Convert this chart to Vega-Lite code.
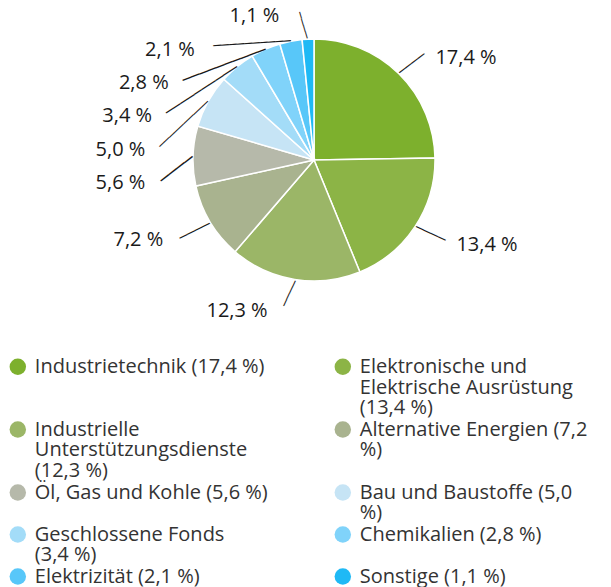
{
  "$schema": "https://vega.github.io/schema/vega-lite/v6.json",
  "width": 594,
  "height": 320,
  "autosize": "none",
  "padding": {"left": 17, "top": 0, "right": 0, "bottom": 267},
  "background": "white",
  "config": {"view": {"stroke": null}, "font": "Open Sans", "style": {"guide-label": {"lineHeight": 20.7}}},
  "data": {
    "values": [
      {"sector": "Industrietechnik (17,4 %)", "value": 17.4, "label": "17,4 %"},
      {"sector": "Elektronische und\nElektrische Ausrüstung\n(13,4 %)", "value": 13.4, "label": "13,4 %"},
      {"sector": "Industrielle\nUnterstützungsdienste\n(12,3 %)", "value": 12.3, "label": "12,3 %"},
      {"sector": "Alternative Energien (7,2\n%)", "value": 7.2, "label": "7,2 %"},
      {"sector": "Öl, Gas und Kohle (5,6 %)", "value": 5.6, "label": "5,6 %"},
      {"sector": "Bau und Baustoffe (5,0\n%)", "value": 5.0, "label": "5,0 %"},
      {"sector": "Geschlossene Fonds\n(3,4 %)", "value": 3.4, "label": "3,4 %"},
      {"sector": "Chemikalien (2,8 %)", "value": 2.8, "label": "2,8 %"},
      {"sector": "Elektrizität (2,1 %)", "value": 2.1, "label": "2,1 %"},
      {"sector": "Sonstige (1,1 %)", "value": 1.1, "label": "1,1 %"}
    ]
  },
  "resolve": {"scale": {"theta": "independent", "radius": "independent"}},
  "layer": [
    {
      "mark": {"type": "arc", "outerRadius": 121, "stroke": "#ffffff", "strokeWidth": 1.5},
      "encoding": {
        "theta": {"field": "value", "type": "quantitative", "stack": true},
        "order": {"field": "value", "type": "quantitative", "sort": "descending"},
        "color": {
          "field": "sector",
          "type": "nominal",
          "sort": null,
          "scale": {
            "domain": [
              "Industrietechnik (17,4 %)",
              "Elektronische und\nElektrische Ausrüstung\n(13,4 %)",
              "Industrielle\nUnterstützungsdienste\n(12,3 %)",
              "Alternative Energien (7,2\n%)",
              "Öl, Gas und Kohle (5,6 %)",
              "Bau und Baustoffe (5,0\n%)",
              "Geschlossene Fonds\n(3,4 %)",
              "Chemikalien (2,8 %)",
              "Elektrizität (2,1 %)",
              "Sonstige (1,1 %)"
            ],
            "range": ["#7db02d", "#8cb446", "#9bb667", "#a9b38f", "#b6b9aa", "#c6e4f5", "#a3dcf8", "#80d3fa", "#58c7f9", "#1fb9f5"]
          },
          "legend": {
            "title": null,
            "orient": "none",
            "direction": "horizontal",
            "legendX": -9.2,
            "legendY": 356.5,
            "columns": 2,
            "columnPadding": 65,
            "rowPadding": 1,
            "padding": 0,
            "symbolType": "circle",
            "symbolSize": 270,
            "symbolStrokeWidth": 0,
            "symbolOpacity": 1,
            "labelFont": "Open Sans",
            "labelFontSize": 20,
            "labelColor": "#333333",
            "labelLimit": 400,
            "labelOffset": 7,
            "labelBaseline": "middle",
            "labelExpr": "split(datum.label + (indexof(datum.label, 'Industrietechnik') == 0 ? '\\n\\n' : ((indexof(datum.label, 'Alternative') == 0 || indexof(datum.label, 'Öl') == 0 || indexof(datum.label, 'Chemikalien') == 0) ? '\\n' : '')), '\\n')"
          }
        }
      }
    },
    {
      "mark": {"type": "text", "radius": 122, "align": "left", "baseline": "middle", "font": "DejaVu Sans Mono", "color": "#1a1a1a"},
      "encoding": {
        "theta": {"field": "value", "type": "quantitative", "stack": true},
        "order": {"field": "value", "type": "quantitative", "sort": "descending"},
        "text": {"condition": {"test": "datum.value >= 2 && datum.value <= 5", "value": "──────────"}, "value": "────"},
        "angle": {
          "field": "value",
          "type": "quantitative",
          "scale": {
            "domain": [1.1, 2.1, 2.8, 3.4, 5.0, 5.6, 7.2, 12.3, 13.4, 17.4],
            "range": [253.9, 176.3, 159.4, 146.7, 137, 142.5, 153.4, 115.1, 24.6, -37.2],
            "zero": false,
            "nice": false
          },
          "legend": null
        },
        "size": {
          "field": "value",
          "type": "quantitative",
          "scale": {
            "domain": [1.1, 2.1, 2.8, 3.4, 5.0, 5.6, 7.2, 12.3, 13.4, 17.4],
            "range": [11.4, 12.9, 14.7, 14.1, 11.0, 16.6, 13.9, 11.5, 13.4, 13.0],
            "zero": false,
            "nice": false
          },
          "legend": null
        }
      }
    },
    {
      "mark": {"type": "text", "align": "center", "baseline": "middle", "fontSize": 20, "font": "Open Sans", "color": "#1a1a1a"},
      "encoding": {
        "theta": {
          "field": "value",
          "type": "quantitative",
          "stack": null,
          "scale": {
            "domain": [1.1, 2.1, 2.8, 3.4, 5.0, 5.6, 7.2, 12.3, 13.4, 17.4],
            "range": [5.8905, 5.3660, 5.1372, 4.9462, 4.7656, 4.5920, 4.2830, 3.6128, 2.0281, 0.9821],
            "zero": false,
            "nice": false
          }
        },
        "radius": {
          "field": "value",
          "type": "quantitative",
          "scale": {
            "domain": [1.1, 2.1, 2.8, 3.4, 5.0, 5.6, 7.2, 12.3, 13.4, 17.4],
            "range": [155.5, 181.4, 186.8, 192.0, 193.8, 194.9, 193.2, 169.5, 192.8, 182.8],
            "zero": false,
            "nice": false
          }
        },
        "text": {"field": "label", "type": "nominal"}
      }
    }
  ]
}
